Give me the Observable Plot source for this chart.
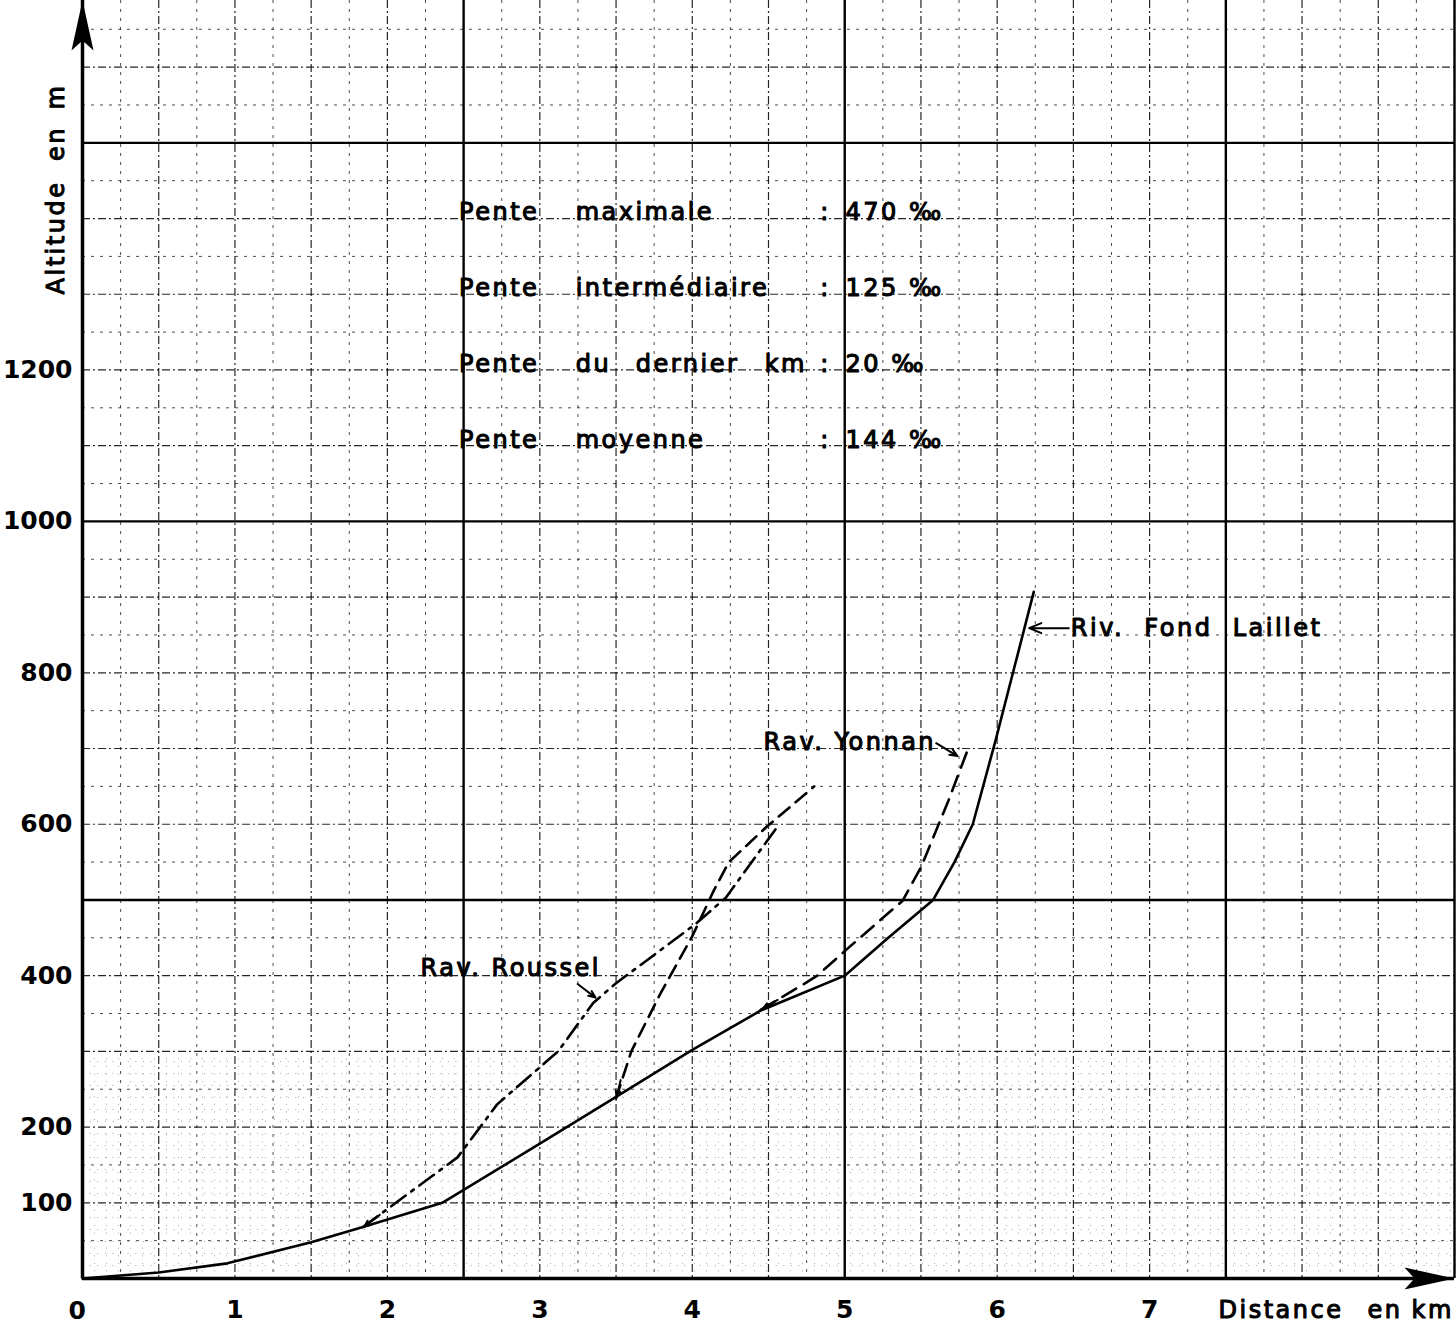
<!DOCTYPE html>
<html><head><meta charset="utf-8">
<script src="https://cdn.jsdelivr.net/npm/d3@7"></script>
<script src="https://cdn.jsdelivr.net/npm/@observablehq/plot@0.6"></script>
<style>
html,body{margin:0;padding:0;background:#fff;}
#chart svg{display:block;}
</style></head><body><div id="chart"></div>
<script>
// ---------- DATA (distance in km, altitude in m) ----------
const lailletKm  = [0, 0.5, 0.95, 1.5, 1.84, 2.36, 3.0, 3.5, 4.0, 4.45, 5.0, 5.28, 5.58, 5.72, 5.84, 5.99, 6.24];
const lailletAlt = [0, 8, 20, 48, 68, 100, 178, 240, 302, 354, 400, 449, 500, 550, 600, 711, 907];

const rousselKm  = [1.84, 2.46, 2.72, 3.12, 3.35, 3.5, 4.02, 4.22, 4.57];
const rousselAlt = [68, 160, 230, 300, 364, 390, 468, 503, 600];

const affluentKm  = [3.5, 3.6, 3.79, 4.0, 4.14, 4.24, 4.49, 4.8];
const affluentAlt = [238, 300, 376, 452, 512, 550, 597, 650];

const yonnanKm  = [4.45, 4.7, 4.82, 5.02, 5.38, 5.5, 5.68, 5.81];
const yonnanAlt = [355, 385, 400, 436, 499, 543, 631, 700];

const xTicks = [1, 2, 3, 4, 5, 6, 7];
const yTicks = [100, 200, 400, 600, 800, 1000, 1200];

const statWords  = [["Pente", "maximale"], ["Pente", "intermédiaire"], ["Pente", "du", "dernier", "km"], ["Pente", "moyenne"]];
const statValues = ["470 ‰", "125 ‰", "20 ‰", "144 ‰"];

const curveNames = ["Riv.  Fond  Laillet", "Rav. Yonnan", "Rav. Roussel"];

// ---------- LAYOUT (data units) ----------
const xDomain = [0, 9];
const yDomain = [0, 1688];
const statRowAlt = [1408, 1308, 1207, 1107];
const statWordKm = [[2.47, 3.235], [2.47, 3.235], [2.47, 3.235, 3.63, 4.475], [2.47, 3.235]];
const colonKm = 4.84, valueKm = 5.005;
const curveLabelPos = [{km: 6.483, alt: 859}, {km: 4.468, alt: 708}, {km: 2.218, alt: 410}];
const pointers = [
  {x1: 6.47, y1: 859, x2: 6.21, y2: 859},
  {x1: 5.6, y1: 707, x2: 5.74, y2: 690},
  {x1: 3.248, y1: 389, x2: 3.365, y2: 371}
];
const mouths = [
  {x1: 1.95, y1: 84, x2: 1.85, y2: 69},
  {x1: 3.53, y1: 262, x2: 3.505, y2: 241},
  {x1: 4.56, y1: 368, x2: 4.47, y2: 358}
];

// ---------- build ----------
const pts = (km, alt) => km.map((k, i) => ({km: k, alt: alt[i]}));
const laillet = pts(lailletKm, lailletAlt);
const roussel = pts(rousselKm, rousselAlt);
const affluent = pts(affluentKm, affluentAlt);
const yonnan = pts(yonnanKm, yonnanAlt);

const statTexts = [];
statWords.forEach((words, r) => {
  words.forEach((w, j) => statTexts.push({text: w, km: statWordKm[r][j], alt: statRowAlt[r]}));
  statTexts.push({text: ":", km: colonKm, alt: statRowAlt[r]});
  statTexts.push({text: statValues[r], km: valueKm, alt: statRowAlt[r]});
});
const curveLabels = curveNames.map((n, i) => ({text: n, ...curveLabelPos[i]}));

// graph-paper grid
const xMm = d3.range(0, 181).filter(i => i % 5).map(i => i * 0.05);
const xHalf = d3.range(0, 37).filter(i => i % 2).map(i => i * 0.25);
const xCm = d3.range(1, 19).filter(i => i % 5).map(i => i * 0.5);
const xHeavy = [2.5, 5, 7.5];
const yMm = d3.range(0, 31).filter(i => i % 5).map(i => i * 10);
const yHalf = d3.range(0, 34).filter(i => i % 2).map(i => i * 50);
const yCm = d3.range(1, 17).filter(i => i % 5).map(i => i * 100);
const yHeavy = [500, 1000, 1500];

const arrowHead = {draw(ctx) { ctx.moveTo(0, 0); ctx.lineTo(11, 50); ctx.lineTo(0, 40); ctx.lineTo(-11, 50); ctx.closePath(); }};

const txt = {fill: "black", stroke: "black", strokeWidth: 1.1, fontSize: 24, textAnchor: "start", lineAnchor: "middle"};
const tickFont = {fontSize: 25, fontWeight: "bold"};

const chart = Plot.plot({
  width: 1456, height: 1326,
  marginLeft: 82, marginRight: 2, marginTop: 0, marginBottom: 48,
  x: {domain: xDomain},
  y: {domain: yDomain},
  style: {fontFamily: "'DejaVu Sans', sans-serif", background: "white", color: "black"},
  marks: [
    // fine millimetre lines (lower part of the sheet)
    Plot.ruleX(xMm, {x: d => d, y1: 0, y2: 300, stroke: "black", strokeOpacity: 0.35, strokeWidth: 1, strokeDasharray: "1,11"}),
    Plot.ruleY(yMm, {y: d => d, stroke: "black", strokeOpacity: 0.35, strokeWidth: 1, strokeDasharray: "1,11"}),
    // 5 mm lines
    Plot.ruleX(xHalf, {x: d => d, stroke: "black", strokeOpacity: 0.7, strokeWidth: 1, strokeDasharray: "3,6"}),
    Plot.ruleY(yHalf, {y: d => d, stroke: "black", strokeOpacity: 0.7, strokeWidth: 1, strokeDasharray: "3,6"}),
    // 1 cm lines
    Plot.ruleX(xCm, {x: d => d, stroke: "black", strokeOpacity: 0.85, strokeWidth: 1.2, strokeDasharray: "8,3,2,3"}),
    Plot.ruleY(yCm, {y: d => d, stroke: "black", strokeOpacity: 0.85, strokeWidth: 1.2, strokeDasharray: "8,3,2,3"}),
    // 5 cm heavy lines
    Plot.ruleX(xHeavy, {x: d => d, stroke: "black", strokeWidth: 2.4}),
    Plot.ruleY(yHeavy, {y: d => d, stroke: "black", strokeWidth: 2.4}),
    Plot.ruleX([xDomain[1]], {x: d => d, stroke: "black", strokeWidth: 2.4}),
    // axes
    Plot.ruleX([0], {x: d => d, stroke: "black", strokeWidth: 3.5}),
    Plot.ruleY([0], {y: d => d, stroke: "black", strokeWidth: 3.5}),
    Plot.dot([xDomain[1]], {x: d => d, y: 0, symbol: arrowHead, rotate: 90, fill: "black", stroke: "none"}),
    Plot.dot([yDomain[1]], {x: 0, y: d => d, symbol: arrowHead, fill: "black", stroke: "none"}),
    Plot.axisX({ticks: xTicks, tickSize: 0, tickPadding: 22, label: null, tickFormat: d => String(d), ...tickFont}),
    Plot.axisY({ticks: yTicks, tickSize: 0, tickPadding: 10, label: null, tickFormat: d => String(d), ...tickFont}),
    Plot.text(["0"], {text: d => d, frameAnchor: "bottom-left", dx: -14, dy: 32, lineAnchor: "middle", ...tickFont}),
    // profiles
    Plot.line(laillet, {x: "km", y: "alt", stroke: "black", strokeWidth: 2.6}),
    Plot.line(yonnan, {x: "km", y: "alt", stroke: "black", strokeWidth: 2.6, strokeDasharray: "16,9"}),
    Plot.line(affluent, {x: "km", y: "alt", stroke: "black", strokeWidth: 2.6, strokeDasharray: "14,8"}),
    Plot.line(roussel, {x: "km", y: "alt", stroke: "black", strokeWidth: 2.6, strokeDasharray: "18,7,3,7"}),
    Plot.arrow(mouths, {x1: "x1", y1: "y1", x2: "x2", y2: "y2", stroke: "black", strokeWidth: 2, headLength: 10, headAngle: 50}),
    // labels
    Plot.arrow(pointers, {x1: "x1", y1: "y1", x2: "x2", y2: "y2", stroke: "black", strokeWidth: 2, headLength: 12, headAngle: 45}),
    Plot.text(curveLabels, {x: "km", y: "alt", text: "text", ...txt}),
    Plot.text(statTexts, {x: "km", y: "alt", text: "text", ...txt}),
    // axis titles
    Plot.text(["Altitude"], {text: d => d, frameAnchor: "top-left", rotate: -90, dx: -26, dy: 237, ...txt, textAnchor: "middle"}),
    Plot.text(["en"], {text: d => d, frameAnchor: "top-left", rotate: -90, dx: -26, dy: 143, ...txt, textAnchor: "middle"}),
    Plot.text(["m"], {text: d => d, frameAnchor: "top-left", rotate: -90, dx: -26, dy: 96, ...txt, textAnchor: "middle"}),
    Plot.text(["Distance"], {text: d => d, frameAnchor: "bottom-right", dx: -236, dy: 32, ...txt}),
    Plot.text(["en"], {text: d => d, frameAnchor: "bottom-right", dx: -87, dy: 32, ...txt}),
    Plot.text(["km"], {text: d => d, frameAnchor: "bottom-right", dx: -43, dy: 32, ...txt})
  ]
});
// wide technical lettering for all non-numeric texts
d3.select(chart).selectAll("text")
  .filter(function() { return !/^\d+$/.test(this.textContent.trim()); })
  .style("letter-spacing", "2.5px")
  .style("white-space", "pre");
document.getElementById("chart").appendChild(chart);
</script></body></html>
